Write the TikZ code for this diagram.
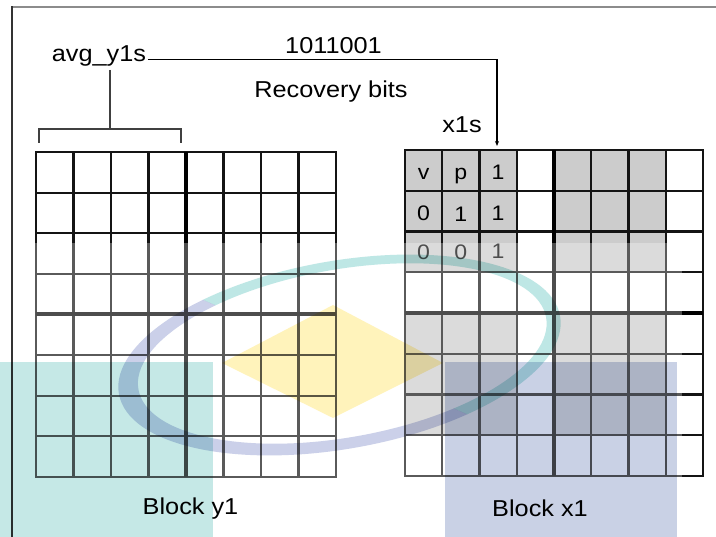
\documentclass[tikz,border=0pt]{standalone}
\usepackage{fontspec}
\setmainfont[FakeStretch=1.1]{Liberation Sans}
\usetikzlibrary{arrows.meta}

\definecolor{cellgray}{RGB}{204,204,204}
\definecolor{wmteal}{RGB}{197,232,230}
\definecolor{wmblue}{RGB}{201,209,229}
\definecolor{wmyellow}{RGB}{255,243,187}
\definecolor{ringteal}{RGB}{190,231,229}
\definecolor{ringblue}{RGB}{203,208,233}

\tikzset{
  lbl/.style={anchor=base,inner sep=0pt,font=\fontsize{23}{27}\selectfont},
  celltxt/.style={anchor=base,inner sep=0pt,font=\fontsize{21}{25}\selectfont},
  gridline/.style={line width=2.1pt,draw=black!92},
  midline/.style={line width=4pt,draw=black},
  conn/.style={line width=1.1pt,draw=black},
  brace/.style={line width=1.1pt,draw=black!75}
}

\begin{document}
\begin{tikzpicture}[x=1pt,y=1pt]
\useasboundingbox (0,0) rectangle (716,537);
\fill[white] (0,0) rectangle (716,537);
\draw[black!45,line width=1.2pt] (12,530) -- (716,530);
\draw[black!80,line width=1.2pt] (12,0) -- (12,530.6);

\begin{scope}[shift={(36,60)}]
\draw[gridline,xstep=37.5,ystep=40.625] (0,0) grid (300,325);
\draw[gridline] (0,0) rectangle (300,325);
\draw[midline] (150,0) -- (150,325);
\draw[midline] (0,162.5) -- (300,162.5);
\end{scope}

\begin{scope}[shift={(405,61)}]
\foreach \c in {0,1,2,4,5,6}
  \foreach \r in {1,2,3,5,6,7}
    \fill[cellgray] (\c*37.25,326-\r*40.75) rectangle ++(37.25,40.75);
\draw[gridline,xstep=37.25,ystep=40.75] (0,0) grid (298,326);
\draw[gridline] (0,0) rectangle (298,326);
\draw[midline] (149,0) -- (149,326);
\draw[midline] (0,163) -- (298,163);
\node[celltxt] (v) at (18.6,296) {v};
\node[celltxt] (p) at (55.9,296) {p};
\node[celltxt] (b1) at (93.1,296) {1};
\node[celltxt] (b2) at (18.6,255) {0};
\node[celltxt] (b3) at (55.9,254) {1};
\node[celltxt] (b4) at (93.1,255) {1};
\node[celltxt] (b5) at (18.6,216) {0};
\node[celltxt] (b6) at (55.9,216) {0};
\node[celltxt] (b7) at (93.1,217) {1};
\coordinate (x1top) at (92,330);
\end{scope}

\node[lbl] (avg) at (99,475) {avg\_y1s};
\node[lbl] (bits) at (333.5,483) {1011001};
\node[lbl] (rec) at (331,439) {Recovery bits};
\node[lbl] (xones) at (462,404) {x1s};

\draw[conn,-{Stealth[length=5pt,width=4pt]}] ([xshift=1.5pt,yshift=2.5pt]avg.base east) -| (x1top);

\coordinate (brmid) at (110,408);
\draw[brace] (39,394) |- (181,408) -- (181,394);
\draw[brace] (avg.south -| brmid) ++(0,-3) -- (brmid);

\fill[white,opacity=.3] (14,0) rectangle (682,294);

\node[lbl] (blocky) at (190.5,22) {Block y1};
\node[lbl] (blockx) at (540,20) {Block x1};

\begin{scope}[blend mode=multiply]
\fill[wmteal] (0,0) rectangle (213,175);
\fill[wmblue] (445,0) rectangle (677,175);
\fill[wmyellow] (222,174) -- (333,232) -- (443,174) -- (333,119) -- cycle;
\begin{scope}
\clip (0,325) -- (716,15) -- (716,537) -- (0,537) -- cycle;
\fill[ringteal,even odd rule,shift={(339.5,182)},rotate=10]
  (0,0) ellipse [x radius=224,y radius=94] (3,1) ellipse [x radius=207,y radius=84];
\end{scope}
\begin{scope}
\clip (0,325) -- (716,15) -- (716,0) -- (0,0) -- cycle;
\fill[ringblue,even odd rule,shift={(339.5,182)},rotate=10]
  (0,0) ellipse [x radius=224,y radius=94] (3,1) ellipse [x radius=207,y radius=84];
\end{scope}
\end{scope}
\end{tikzpicture}
\end{document}
